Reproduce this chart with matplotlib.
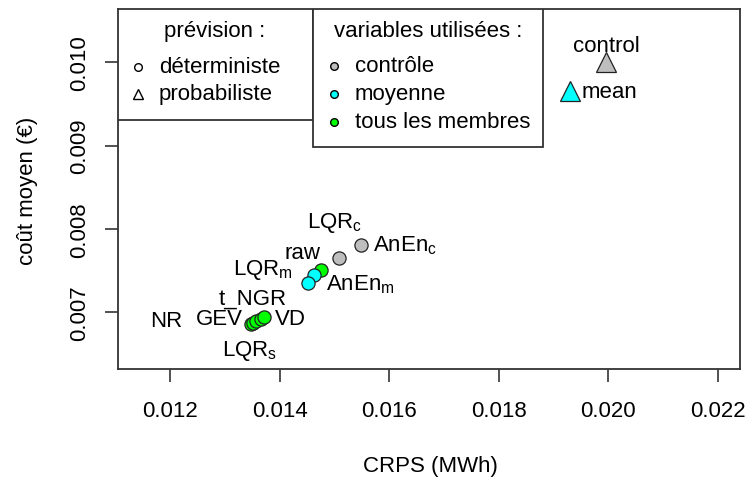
import matplotlib
matplotlib.use("Agg")
import matplotlib.pyplot as plt
from matplotlib.patches import Rectangle

plt.rcParams["font.family"] = ["Liberation Sans", "DejaVu Sans"]
plt.rcParams["mathtext.fontset"] = "custom"
plt.rcParams["mathtext.rm"] = "Liberation Sans"
plt.rcParams["mathtext.it"] = "Liberation Sans"

# Deterministic forecasts (circles)
det_names = ["AnEn$_\\mathrm{c}$", "LQR$_\\mathrm{c}$", "raw",
             "AnEn$_\\mathrm{m}$", "LQR$_\\mathrm{m}$",
             "NR", "LQR$_\\mathrm{s}$", "GEV", "t_NGR", "VD"]
det_crps = [0.01549, 0.01508, 0.01475, 0.01463, 0.01451,
            0.01348, 0.01351, 0.01357, 0.01366, 0.01372]
det_cost = [0.007807, 0.007650, 0.007507, 0.007447, 0.007355,
            0.006855, 0.006872, 0.006893, 0.006918, 0.006940]
det_group = ["controle", "controle", "membres", "moyenne", "moyenne",
             "membres", "membres", "membres", "membres", "membres"]

# Probabilistic forecasts (triangles)
prob_names = ["control", "mean"]
prob_crps = [0.01996, 0.01929]
prob_cost = [0.01000, 0.00966]
prob_group = ["controle", "moyenne"]

group_colors = {"controle": "#BEBEBE", "moyenne": "#00FFFF", "membres": "#00FF00"}

x_ticks = [0.012, 0.014, 0.016, 0.018, 0.020, 0.022]
y_ticks = [0.007, 0.008, 0.009, 0.010]

FS = 16
W, H = 747, 481
fig = plt.figure(figsize=(W / 100, H / 100), dpi=100)
ax = fig.add_axes([118 / W, (H - 370) / H, (740 - 118) / W, 360 / H])
ax.set_xlim(0.011051, 0.022401)
ax.set_ylim(0.00632, 0.01064)

for x, y, g in zip(det_crps, det_cost, det_group):
    ax.plot(x, y, "o", ms=9.5, mfc=group_colors[g], mec="#222222", mew=0.9, zorder=3)
for x, y, g in zip(prob_crps, prob_cost, prob_group):
    ax.plot(x, y, "^", ms=14, mfc=group_colors[g], mec="#222222", mew=0.9, zorder=3)

# label placement: (dx px, dy px, ha) relative to each mark
px = 0.72
det_offsets = {
    "AnEn$_\\mathrm{c}$": (12, 0, "left"),
    "LQR$_\\mathrm{c}$": (-4, 36, "center"),
    "raw": (-18, 18, "center"),
    "AnEn$_\\mathrm{m}$": (12, -9, "left"),
    "LQR$_\\mathrm{m}$": (-15, 14, "right"),
    "NR": (-69, 4, "right"),
    "LQR$_\\mathrm{s}$": (-3, -27, "center"),
    "GEV": (-13, 3, "right"),
    "t_NGR": (-8, 21, "center"),
    "VD": (11, -1, "left"),
}
for name, x, y in zip(det_names, det_crps, det_cost):
    dx, dy, ha = det_offsets[name]
    ax.annotate(name, (x, y), xytext=(dx * px, dy * px), textcoords="offset points",
                ha=ha, va="center", fontsize=FS, zorder=4)
prob_offsets = {"control": (0, 17, "center"), "mean": (12, -1, "left")}
for name, x, y in zip(prob_names, prob_crps, prob_cost):
    dx, dy, ha = prob_offsets[name]
    ax.annotate(name, (x, y), xytext=(dx * px, dy * px), textcoords="offset points",
                ha=ha, va="center", fontsize=FS, zorder=4)

ax.set_xticks(x_ticks)
ax.set_xticklabels([f"{v:.3f}" for v in x_ticks])
ax.set_yticks(y_ticks)
ax.set_yticklabels([f"{v:.3f}" for v in y_ticks], rotation=90, va="center")
ax.tick_params(axis="both", length=9.4, width=1.2, color="#333333", labelsize=FS)
ax.tick_params(axis="x", pad=13)
ax.tick_params(axis="y", pad=11)
for s in ax.spines.values():
    s.set_linewidth(1.3)
    s.set_color("#333333")

fig.text(430 / W, 1 - 467 / H, "CRPS (MWh)", ha="center", va="center", fontsize=FS)
fig.text(28 / W, 1 - 191 / H, "coût moyen (€)", ha="center", va="center",
         rotation=90, fontsize=FS)


def A(xp, yp):
    return ((xp - 118) / 622, (370 - yp) / 360)


# legend boxes
for x0, y0, x1, y1 in [(118, 10, 313, 121), (313, 10, 543, 148)]:
    ax0 = A(x0, y1)
    ax1 = A(x1, y0)
    ax.add_patch(Rectangle(ax0, ax1[0] - ax0[0], ax1[1] - ax0[1], transform=ax.transAxes,
                           facecolor="white", edgecolor="#333333", lw=1.3, zorder=5))

ax.text(*A(215, 32), "prévision :", transform=ax.transAxes, ha="center", va="center",
        fontsize=FS, zorder=6)
leg1 = [("o", "déterministe", 68), ("^", "probabiliste", 95)]
for m, lab, yp in leg1:
    ax.plot(*A(138, yp), m, ms=6.5 if m == "^" else 5.5, mfc="white", mec="black",
            mew=1.0, transform=ax.transAxes, zorder=6, clip_on=False)
    ax.text(*A(159, yp), lab, transform=ax.transAxes, ha="left", va="center",
            fontsize=FS, zorder=6)

ax.text(*A(428, 32), "variables utilisées :", transform=ax.transAxes, ha="center",
        va="center", fontsize=FS, zorder=6)
leg2 = [("controle", "contrôle", 67), ("moyenne", "moyenne", 95),
        ("membres", "tous les membres", 123)]
for g, lab, yp in leg2:
    ax.plot(*A(334, yp), "o", ms=5.5, mfc=group_colors[g], mec="black", mew=1.0,
            transform=ax.transAxes, zorder=6, clip_on=False)
    ax.text(*A(355, yp), lab, transform=ax.transAxes, ha="left", va="center",
            fontsize=FS, zorder=6)

fig.savefig("out.png", dpi=100)
